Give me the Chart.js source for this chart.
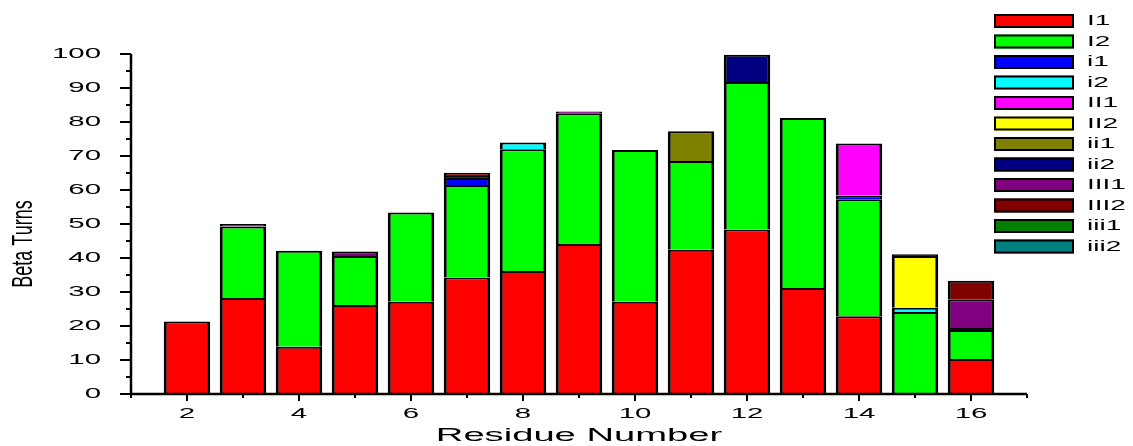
<!DOCTYPE html>
<html>
<head>
<meta charset="utf-8">
<title>Beta Turns per Residue</title>
<script src="https://cdn.jsdelivr.net/npm/chart.js@4/dist/chart.umd.min.js"></script>
<style>
  html, body { margin: 0; padding: 0; background: #ffffff; }
  #wrap { width: 1133px; height: 446px; }
</style>
</head>
<body>
<div id="wrap"><canvas id="chart" width="1133" height="446"></canvas></div>
<script>
// Residue positions along the x axis
const residues = [2, 3, 4, 5, 6, 7, 8, 9, 10, 11, 12, 13, 14, 15, 16];

// Beta-turn counts per turn type (null = type absent at that residue)
const turnI1   = [21.3, 28.2, 13.9, 26.2, 27.1, 34.3, 36.2, 44.1, 27.1, 42.4, 48.4, 31.2, 22.9, null, 10.3];
const turnI2   = [null, 21.1, 28.2, 14.4, 26.3, 27.2, 35.8, 38.5, 44.7, 26.1, 43.4, 50.0, 34.4, 24.1, 8.5];
const turni1   = [null, null, null, null, null, 2.0, null, null, null, null, null, null, 1.1, null, null];
const turni2   = [null, null, null, null, null, null, 2.0, null, null, null, null, null, null, 1.3, null];
const turnII1  = [null, null, null, null, null, null, null, null, null, null, null, null, 15.3, null, null];
const turnII2  = [null, null, null, null, null, null, null, null, null, null, null, null, null, 15.2, null];
const turnii1  = [null, null, null, null, null, null, null, null, null, 8.8, null, null, null, null, null];
const turnii2  = [null, null, null, null, null, null, null, null, null, null, 8.0, null, null, null, 0.6];
const turnIII1 = [null, 0.7, null, 1.3, null, 0.6, null, 0.5, null, null, null, null, null, null, 8.5];
const turnIII2 = [null, null, null, null, null, 1.0, null, null, null, null, null, null, null, 0.5, 5.4];
const turniii1 = [null, null, null, null, null, null, null, null, null, null, null, null, null, null, null];
const turniii2 = [null, null, null, null, null, null, null, null, null, null, null, null, null, null, null];

// Series names and fill colours
const seriesNames  = ['I1', 'I2', 'i1', 'i2', 'II1', 'II2', 'ii1', 'ii2', 'III1', 'III2', 'iii1', 'iii2'];
const seriesValues = [turnI1, turnI2, turni1, turni2, turnII1, turnII2, turnii1, turnii2, turnIII1, turnIII2, turniii1, turniii2];
const seriesColors = ['#ff0000', '#00ff00', '#0000ff', '#00ffff', '#ff00ff', '#ffff00',
                      '#808000', '#000080', '#800080', '#800000', '#008000', '#008080'];

// Axis tick values
const yMajorTicks = [0, 10, 20, 30, 40, 50, 60, 70, 80, 90, 100];
const xMajorTicks = [2, 4, 6, 8, 10, 12, 14, 16];

const X_MIN = 1, X_MAX = 17, Y_MIN = 0, Y_MAX = 100;

// Draw text horizontally widened by factor sx
function wideText(ctx, text, x, y, sx, align) {
  ctx.save();
  ctx.translate(x, y);
  ctx.scale(sx, 1);
  ctx.textAlign = align || 'center';
  ctx.fillText(text, 0, 0);
  ctx.restore();
}

// Axes, ticks, labels and titles drawn from the chart's scales
const axesPlugin = {
  id: 'originAxes',
  afterDatasetsDraw(chart) {
    const ctx = chart.ctx;
    const xs = chart.scales.x, ys = chart.scales.y;
    const x0 = xs.getPixelForValue(X_MIN), x1 = xs.getPixelForValue(X_MAX);
    const y0 = ys.getPixelForValue(Y_MIN), y1 = ys.getPixelForValue(Y_MAX);
    ctx.save();
    ctx.strokeStyle = '#000';
    ctx.fillStyle = '#000';
    ctx.lineCap = 'butt';

    // axis lines
    ctx.lineWidth = 2.5;
    ctx.beginPath();
    ctx.moveTo(x0, y1);
    ctx.lineTo(x0, y0 + 1.25);
    ctx.moveTo(x0 - 1.25, y0);
    ctx.lineTo(x1, y0);
    ctx.stroke();

    // y ticks: major every 10, minor every 5
    ctx.lineWidth = 2;
    for (let v = Y_MIN; v <= Y_MAX; v += 5) {
      const py = ys.getPixelForValue(v);
      const len = (v % 10 === 0) ? 11 : 5;
      ctx.beginPath();
      ctx.moveTo(x0, py);
      ctx.lineTo(x0 - len, py);
      ctx.stroke();
    }
    // x ticks: major at even, minor at odd
    for (let v = X_MIN; v <= X_MAX; v += 1) {
      const px = xs.getPixelForValue(v);
      const len = (v % 2 === 0) ? 7 : 4;
      ctx.beginPath();
      ctx.moveTo(px, y0);
      ctx.lineTo(px, y0 + len);
      ctx.stroke();
    }

    // tick labels
    ctx.font = '14px "Liberation Sans", Arial, sans-serif';
    ctx.textBaseline = 'middle';
    yMajorTicks.forEach(v => {
      wideText(ctx, String(v), x0 - 30, ys.getPixelForValue(v), 2.1, 'right');
    });
    ctx.textBaseline = 'alphabetic';
    xMajorTicks.forEach(v => {
      wideText(ctx, String(v), xs.getPixelForValue(v), y0 + 24, 2.1, 'center');
    });

    // x title
    ctx.font = '18px "Liberation Sans", Arial, sans-serif';
    wideText(ctx, 'Residue Number', (x0 + x1) / 2, 441, 2.12, 'center');

    // y title (rotated, glyph height widened)
    ctx.save();
    ctx.translate(24, 244);
    ctx.rotate(-Math.PI / 2);
    ctx.scale(1, 1.68);
    ctx.font = '18px "Liberation Sans", Arial, sans-serif';
    ctx.textAlign = 'center';
    ctx.textBaseline = 'middle';
    ctx.fillText('Beta Turns', 0, 0);
    ctx.restore();

    // legend
    ctx.font = '14px "Liberation Sans", Arial, sans-serif';
    ctx.textBaseline = 'middle';
    chart.data.datasets.forEach((ds, i) => {
      const top = 14 + i * 20.5;
      ctx.fillStyle = ds.backgroundColor;
      ctx.fillRect(994, top, 80, 14);
      ctx.lineWidth = 2;
      ctx.strokeStyle = '#000';
      ctx.strokeRect(995, top + 1, 78, 12);
      ctx.fillStyle = '#000';
      wideText(ctx, ds.label, 1087, top + 7.5, 2.0, 'left');
    });
    ctx.restore();
  }
};

const datasets = seriesNames.map((name, i) => ({
  label: name,
  data: residues.map((r, j) => ({ x: r, y: seriesValues[i][j] })),
  backgroundColor: seriesColors[i],
  borderColor: '#000000',
  borderWidth: { top: 2, left: 3, right: 3, bottom: 0 },
  borderSkipped: false,
  categoryPercentage: 1.0,
  barPercentage: 0.83
}));

new Chart(document.getElementById('chart'), {
  type: 'bar',
  data: { datasets },
  options: {
    responsive: false,
    animation: false,
    layout: { padding: { left: 131, right: 106, top: 54, bottom: 52 } },
    plugins: { legend: { display: false }, tooltip: { enabled: false } },
    scales: {
      x: { type: 'linear', min: X_MIN, max: X_MAX, offset: false, stacked: true, display: false },
      y: { type: 'linear', min: Y_MIN, max: Y_MAX, stacked: true, display: false }
    }
  },
  plugins: [axesPlugin]
});
</script>
</body>
</html>
